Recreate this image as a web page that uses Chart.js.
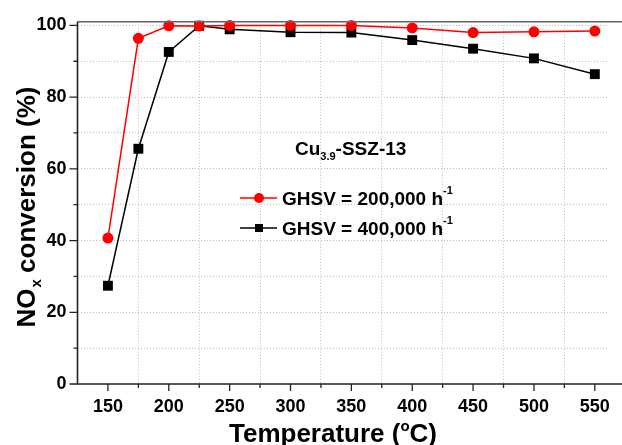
<!DOCTYPE html>
<html>
<head>
<meta charset="utf-8">
<script src="https://cdn.jsdelivr.net/npm/chart.js@4.4.1/dist/chart.umd.min.js"></script>
<style>
html,body{margin:0;padding:0;background:#fff;}
#wrap{width:622px;height:445px;position:relative;}
</style>
</head>
<body>
<div id="wrap"><canvas id="c" width="622" height="445"></canvas></div>
<script>
const temperatures = [150, 175, 200, 225, 250, 300, 350, 400, 450, 500, 550];
const conv200k = [40.7, 96.4, 99.9, 99.8, 100, 100, 100, 99.3, 98.0, 98.2, 98.4];
const conv400k = [27.4, 65.6, 92.6, 99.9, 98.9, 98.1, 98.0, 95.9, 93.5, 90.8, 86.4];
const seriesNames = ['GHSV = 200,000 h', 'GHSV = 400,000 h'];
const xTickLabels = [150, 200, 250, 300, 350, 400, 450, 500, 550];
const yTickLabels = [0, 20, 40, 60, 80, 100];

const FONT = '"Liberation Sans", Arial, sans-serif';

const decor = {
  id: 'decor',
  afterDraw(chart) {
    const ctx = chart.ctx;
    const xs = chart.scales.x, ys = chart.scales.y;
    const a = chart.chartArea;
    ctx.save();
    // top frame
    ctx.strokeStyle = '#666';
    ctx.lineWidth = 1.5;
    ctx.beginPath(); ctx.moveTo(a.left, a.top); ctx.lineTo(622, a.top); ctx.stroke();
    // axes
    ctx.strokeStyle = '#222';
    ctx.lineWidth = 1.6;
    ctx.beginPath();
    ctx.moveTo(a.left, a.top); ctx.lineTo(a.left, a.bottom); ctx.lineTo(622, a.bottom);
    ctx.stroke();
    // ticks
    ctx.lineWidth = 1.3;
    ctx.beginPath();
    for (let v = 150; v <= 575; v += 25) {
      const px = xs.getPixelForValue(v);
      if (px > 622) break;
      const major = v % 50 === 0;
      ctx.moveTo(px, a.bottom); ctx.lineTo(px, a.bottom + (major ? 7 : 4));
    }
    for (let v = 0; v <= 100; v += 10) {
      const py = ys.getPixelForValue(v);
      const major = v % 20 === 0;
      ctx.moveTo(a.left, py); ctx.lineTo(a.left - (major ? 8 : 4), py);
    }
    ctx.stroke();

    // x title
    ctx.fillStyle = '#000';
    ctx.textBaseline = 'alphabetic';
    const big = 'bold 26px ' + FONT, sup = 'bold 15px ' + FONT;
    ctx.font = big;
    const p1 = 'Temperature (', p3 = 'C)';
    ctx.font = sup; const wo = ctx.measureText('o').width;
    ctx.font = big;
    const w1 = ctx.measureText(p1).width, w3 = ctx.measureText(p3).width;
    let x0 = 333 - (w1 + wo + w3) / 2;
    const by = 442;
    ctx.fillText(p1, x0, by);
    ctx.font = sup; ctx.fillText('o', x0 + w1, by - 11);
    ctx.font = big; ctx.fillText(p3, x0 + w1 + wo, by);

    // y title rotated
    ctx.save();
    ctx.translate(35, 207);
    ctx.rotate(-Math.PI / 2);
    const q1 = 'NO', q3 = ' conversion (%)';
    ctx.font = sup; const wx = ctx.measureText('x').width;
    ctx.font = big;
    const wq1 = ctx.measureText(q1).width, wq3 = ctx.measureText(q3).width;
    let s = -(wq1 + wx + wq3) / 2;
    ctx.fillText(q1, s, 0);
    ctx.font = sup; ctx.fillText('x', s + wq1 + 1, 6);
    ctx.font = big; ctx.fillText(q3, s + wq1 + wx, 0);
    ctx.restore();

    // annotation Cu3.9-SSZ-13
    const f18 = 'bold 19px ' + FONT, f11 = 'bold 11px ' + FONT;
    ctx.font = f18;
    let cx = 295; const cy = 155;
    ctx.fillText('Cu', cx, cy); cx += ctx.measureText('Cu').width;
    ctx.font = f11; ctx.fillText('3.9', cx, cy + 5); cx += ctx.measureText('3.9').width;
    ctx.font = f18; ctx.fillText('-SSZ-13', cx, cy);

    // legend
    const items = [
      {y: 198, color: '#ff0000', shape: 'circle', label: seriesNames[0]},
      {y: 228, color: '#000000', shape: 'rect', label: seriesNames[1]}
    ];
    items.forEach(it => {
      ctx.strokeStyle = it.color; ctx.fillStyle = it.color; ctx.lineWidth = 1.5;
      ctx.beginPath(); ctx.moveTo(240, it.y); ctx.lineTo(277, it.y); ctx.stroke();
      ctx.beginPath();
      if (it.shape === 'circle') { ctx.arc(259, it.y, 5, 0, Math.PI * 2); ctx.fill(); }
      else { ctx.fillRect(255, it.y - 4, 8, 8); }
      ctx.fillStyle = '#000';
      ctx.font = f18;
      const tx = 282, ty = it.y + 7;
      ctx.fillText(it.label, tx, ty);
      const wl = ctx.measureText(it.label).width;
      ctx.font = f11; ctx.fillText('-1', tx + wl, ty - 11);
    });
    ctx.restore();
  }
};

new Chart(document.getElementById('c'), {
  type: 'line',
  data: {
    datasets: [
      {
        label: seriesNames[0],
        data: temperatures.map((t, i) => ({x: t, y: conv200k[i]})),
        borderColor: '#ff0000', backgroundColor: '#ff0000',
        borderWidth: 1.5, pointStyle: 'circle', pointRadius: 5.5, pointBorderWidth: 0,
        tension: 0, clip: false
      },
      {
        label: seriesNames[1],
        data: temperatures.map((t, i) => ({x: t, y: conv400k[i]})),
        borderColor: '#000000', backgroundColor: '#000000',
        borderWidth: 1.5, pointStyle: 'rect', pointRadius: 7, pointBorderWidth: 0,
        tension: 0, clip: false
      }
    ]
  },
  options: {
    responsive: false,
    animation: false,
    devicePixelRatio: 1,
    layout: {padding: {left: 0, right: 0, top: 21, bottom: 0}},
    plugins: {legend: {display: false}, tooltip: {enabled: false}},
    scales: {
      x: {
        type: 'linear', min: 125, max: 561,
        afterBuildTicks: s => { s.ticks = []; for (let v = 150; v <= 550; v += 25) s.ticks.push({value: v}); },
        afterFit: s => { s.height = 61; },
        grid: {
          drawTicks: false,
          color: c => (c.tick && c.tick.value % 50 !== 0) ? '#bdbdbd' : 'rgba(0,0,0,0)',
          lineWidth: 1
        },
        border: {display: false, dash: [1, 2]},
        ticks: {
          padding: 12,
          color: '#000',
          font: {family: FONT, size: 18, weight: 'bold'},
          maxRotation: 0, autoSkip: false,
          callback: v => xTickLabels.includes(v) ? String(v) : ''
        }
      },
      y: {
        type: 'linear', min: 0, max: 101,
        afterBuildTicks: s => { s.ticks = []; for (let v = 0; v <= 100; v += 10) s.ticks.push({value: v}); },
        afterFit: s => { s.width = 77.5; },
        grid: {
          drawTicks: false,
          color: c => (c.tick && c.tick.value !== 0) ? '#bdbdbd' : 'rgba(0,0,0,0)',
          lineWidth: 1
        },
        border: {display: false, dash: [1, 2]},
        ticks: {
          padding: 11,
          color: '#000',
          font: {family: FONT, size: 18, weight: 'bold'},
          autoSkip: false,
          callback: v => yTickLabels.includes(v) ? String(v) : ''
        }
      }
    }
  },
  plugins: [decor]
});
</script>
</body>
</html>
